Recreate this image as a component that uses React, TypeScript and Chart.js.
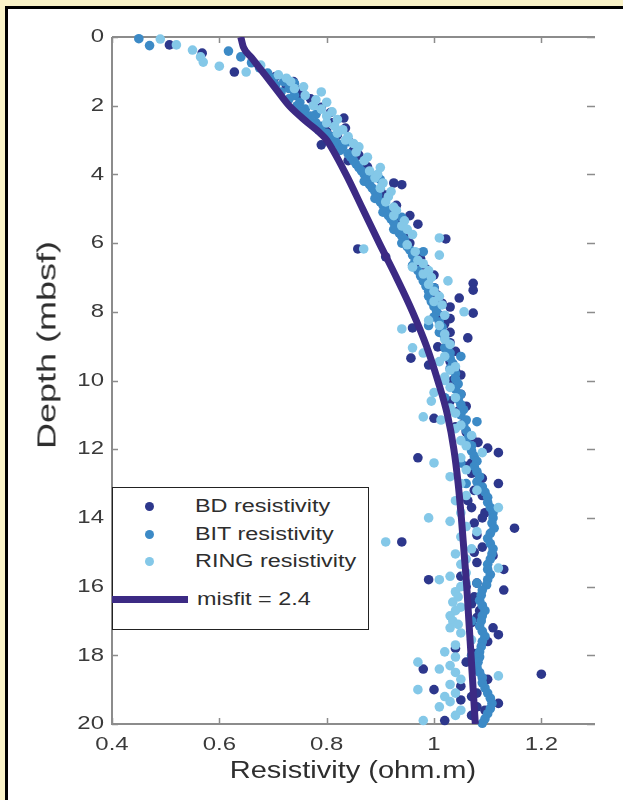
import React, { useEffect, useRef } from "react";
import { Chart, registerables } from "chart.js";

Chart.register(...registerables);

// ---------- data ----------
const xTickValues = [0.4, 0.6, 0.8, 1, 1.2];
const xTickLabels = ["0.4", "0.6", "0.8", "1", "1.2"];
const yTickValues = [0, 2, 4, 6, 8, 10, 12, 14, 16, 18, 20];
const yTickLabels = ["0", "2", "4", "6", "8", "10", "12", "14", "16", "18", "20"];

const bdDepth = [0.23, 0.47, 1.02, 1.15, 1.3, 1.45, 1.55, 1.7, 1.8, 1.93, 2.05, 2.2, 2.36, 2.5, 2.65, 2.75, 2.85, 3.0, 3.14, 3.3, 3.44, 3.6, 3.78, 3.9, 4.05, 4.15, 4.25, 4.3, 4.45, 4.6, 4.75, 4.9, 5.05, 5.2, 5.3, 5.45, 5.55, 5.7, 5.88, 6.0, 6.17, 6.3, 6.4, 6.45, 6.6, 6.75, 6.93, 7.05, 7.17, 7.3, 7.37, 7.5, 7.6, 7.75, 7.86, 8.04, 8.1, 8.2, 8.35, 8.47, 8.6, 8.76, 8.9, 9.02, 9.15, 9.35, 9.45, 9.55, 9.7, 9.84, 10.0, 10.2, 10.4, 10.6, 10.75, 10.9, 11.1, 11.25, 11.35, 11.5, 11.65, 11.8, 11.97, 12.1, 12.25, 12.4, 12.5, 12.7, 12.85, 13.0, 13.2, 13.35, 13.5, 13.7, 13.85, 14.0, 14.15, 14.3, 14.5, 14.7, 14.85, 15.0, 15.1, 15.3, 15.5, 15.7, 15.8, 15.9, 16.0, 16.1, 16.3, 16.5, 16.7, 16.9, 17.05, 17.2, 17.4, 17.6, 17.8, 17.95, 18.1, 18.2, 18.4, 18.55, 18.7, 18.9, 19.0, 19.1, 19.2, 19.3, 19.4, 19.5, 19.6, 19.75, 19.9];
const bdRes = [0.507, 0.568, 0.628, 0.705, 0.738, 0.725, 0.75, 0.745, 0.77, 0.776, 0.79, 0.807, 0.832, 0.81, 0.835, 0.8, 0.82, 0.84, 0.79, 0.85, 0.86, 0.84, 0.876, 0.87, 0.89, 0.88, 0.925, 0.94, 0.9, 0.91, 0.905, 0.93, 0.92, 0.955, 0.935, 0.97, 0.94, 0.95, 1.022, 0.955, 0.858, 0.97, 0.91, 0.975, 0.97, 0.985, 1.0, 0.99, 1.073, 1.0, 1.073, 1.005, 1.047, 1.015, 1.03, 1.073, 1.01, 1.03, 1.02, 0.96, 1.03, 1.063, 1.03, 1.007, 1.04, 0.957, 1.03, 0.99, 1.04, 1.05, 1.035, 1.04, 1.05, 1.03, 1.06, 1.045, 1.0, 1.055, 1.04, 1.06, 1.07, 1.082, 1.1, 1.12, 0.97, 1.07, 1.06, 1.07, 1.09, 1.12, 1.075, 1.09, 1.063, 1.07, 1.095, 1.09, 1.075, 1.15, 1.08, 0.94, 1.09, 1.075, 1.11, 1.08, 1.13, 1.05, 0.99, 1.08, 1.06, 1.13, 1.075, 1.07, 1.085, 1.08, 1.07, 1.11, 1.12, 1.1, 1.04, 1.075, 1.07, 1.06, 0.98, 1.2, 1.1, 1.05, 1.0, 1.08, 1.07, 1.05, 1.12, 1.08, 1.095, 1.07, 1.02];

const bitDepth = [0.05, 0.25, 0.41, 0.58, 0.75, 0.9, 1.05, 1.2, 1.3, 1.35, 1.4, 1.5, 1.6, 1.7, 1.8, 1.9, 2.0, 2.1, 2.2, 2.25, 2.3, 2.4, 2.5, 2.6, 2.7, 2.8, 2.9, 3.0, 3.05, 3.1, 3.2, 3.3, 3.4, 3.5, 3.6, 3.7, 3.8, 3.9, 4.0, 4.1, 4.15, 4.2, 4.3, 4.4, 4.5, 4.6, 4.7, 4.8, 4.9, 5.0, 5.1, 5.2, 5.25, 5.3, 5.4, 5.5, 5.6, 5.7, 5.8, 5.9, 6.0, 6.1, 6.2, 6.25, 6.35, 6.5, 6.65, 6.8, 6.95, 7.1, 7.25, 7.3, 7.4, 7.55, 7.7, 7.85, 8.0, 8.15, 8.3, 8.4, 8.45, 8.6, 8.75, 8.9, 9.05, 9.2, 9.3, 9.35, 9.5, 9.65, 9.8, 9.95, 10.1, 10.25, 10.4, 10.5, 10.55, 10.7, 10.85, 11.0, 11.15, 11.2, 11.3, 11.45, 11.6, 11.75, 11.9, 12.05, 12.2, 12.35, 12.4, 12.5, 12.65, 12.8, 12.95, 13.0, 13.1, 13.25, 13.4, 13.55, 13.7, 13.85, 14.0, 14.15, 14.3, 14.45, 14.6, 14.75, 14.9, 15.05, 15.2, 15.35, 15.5, 15.65, 15.8, 15.9, 15.95, 16.1, 16.25, 16.4, 16.55, 16.7, 16.85, 17.0, 17.0, 17.15, 17.3, 17.45, 17.6, 17.75, 17.9, 18.0, 18.05, 18.2, 18.35, 18.5, 18.65, 18.8, 18.95, 19.1, 19.25, 19.4, 19.55, 19.7, 19.85, 19.98];
const bitRes = [0.45, 0.47, 0.617, 0.64, 0.66, 0.675, 0.69, 0.7, 0.72, 0.74, 0.705, 0.73, 0.715, 0.74, 0.73, 0.75, 0.745, 0.76, 0.755, 0.78, 0.77, 0.765, 0.78, 0.79, 0.785, 0.8, 0.81, 0.815, 0.84, 0.82, 0.83, 0.825, 0.84, 0.845, 0.85, 0.855, 0.86, 0.865, 0.87, 0.875, 0.9, 0.87, 0.88, 0.885, 0.89, 0.895, 0.89, 0.9, 0.905, 0.91, 0.905, 0.915, 0.94, 0.92, 0.925, 0.93, 0.925, 0.935, 0.94, 0.945, 0.94, 0.95, 0.955, 0.98, 0.96, 0.965, 0.96, 0.97, 0.975, 0.98, 0.985, 1.0, 0.99, 0.99, 0.995, 1.0, 1.005, 1.0, 1.01, 0.99, 1.015, 1.01, 1.02, 1.025, 1.02, 1.03, 1.05, 1.03, 1.035, 1.03, 1.04, 1.04, 1.045, 1.04, 1.05, 1.02, 1.045, 1.05, 1.055, 1.05, 1.06, 1.08, 1.055, 1.06, 1.065, 1.06, 1.07, 1.07, 1.075, 1.08, 1.05, 1.075, 1.08, 1.085, 1.08, 1.06, 1.09, 1.095, 1.1, 1.1, 1.105, 1.11, 1.11, 1.108, 1.112, 1.105, 1.1, 1.105, 1.11, 1.108, 1.105, 1.1, 1.1, 1.105, 1.1, 1.08, 1.098, 1.09, 1.088, 1.085, 1.09, 1.095, 1.09, 1.088, 1.07, 1.085, 1.09, 1.095, 1.09, 1.088, 1.085, 1.07, 1.085, 1.082, 1.08, 1.085, 1.09, 1.09, 1.095, 1.1, 1.105, 1.108, 1.105, 1.1, 1.095, 1.09];

const ringDepth = [0.06, 0.23, 0.38, 0.58, 0.73, 0.85, 1.02, 0.82, 1.1, 1.2, 1.3, 1.45, 1.5, 1.6, 1.7, 1.83, 1.9, 2.0, 2.1, 2.18, 2.3, 2.4, 2.5, 2.6, 2.7, 2.8, 2.9, 3.0, 3.1, 3.2, 3.35, 3.5, 3.6, 3.8, 3.9, 4.0, 4.1, 4.25, 4.4, 4.5, 4.65, 4.8, 4.95, 5.05, 5.2, 5.35, 5.5, 5.6, 5.75, 5.85, 6.05, 6.17, 6.25, 6.35, 6.5, 6.6, 6.7, 6.8, 6.9, 7.0, 7.1, 7.2, 7.4, 7.55, 7.7, 7.8, 8.0, 8.1, 8.25, 8.4, 8.5, 8.65, 8.8, 8.95, 9.05, 9.2, 9.3, 9.45, 9.6, 9.7, 9.9, 10.0, 10.2, 10.35, 10.5, 10.6, 10.8, 10.95, 11.06, 11.15, 11.3, 11.4, 11.6, 11.75, 11.9, 12.1, 12.25, 12.4, 12.6, 12.8, 13.0, 13.2, 13.35, 13.5, 13.7, 13.85, 14.0, 14.1, 14.25, 14.4, 14.55, 14.7, 14.9, 15.05, 15.2, 15.35, 15.46, 15.6, 15.7, 15.8, 15.9, 16.0, 16.15, 16.3, 16.45, 16.6, 16.7, 16.85, 17.0, 17.1, 17.2, 17.35, 17.55, 17.7, 17.9, 18.05, 18.2, 18.3, 18.4, 18.5, 18.6, 18.7, 18.85, 19.0, 19.1, 19.2, 19.35, 19.5, 19.6, 19.75, 19.9];
const ringRes = [0.49, 0.52, 0.55, 0.565, 0.57, 0.6, 0.65, 0.677, 0.71, 0.725, 0.733, 0.757, 0.74, 0.79, 0.76, 0.78, 0.8, 0.775, 0.79, 0.81, 0.8, 0.82, 0.8, 0.815, 0.83, 0.82, 0.84, 0.835, 0.85, 0.86, 0.855, 0.876, 0.87, 0.9, 0.88, 0.895, 0.89, 0.905, 0.9, 0.92, 0.915, 0.91, 0.925, 0.93, 0.925, 0.945, 0.94, 0.95, 0.96, 1.01, 0.95, 0.869, 0.965, 1.01, 0.97, 0.98, 0.96, 0.99, 0.98, 0.995, 1.026, 0.99, 1.0, 1.01, 1.0, 1.015, 1.056, 1.02, 0.99, 1.01, 0.94, 1.02, 1.02, 1.03, 0.96, 0.98, 1.02, 1.01, 1.04, 1.03, 1.02, 1.02, 1.03, 1.0, 1.04, 0.995, 1.03, 1.04, 0.98, 1.013, 1.05, 1.04, 1.07, 1.05, 1.06, 1.09, 1.05, 1.0, 1.06, 1.03, 1.05, 1.08, 1.06, 1.04, 1.12, 1.05, 0.99, 1.03, 1.06, 1.08, 1.05, 0.91, 1.07, 1.04, 1.06, 1.05, 1.12, 1.06, 1.03, 1.01, 1.06, 1.05, 1.04, 1.045, 1.035, 1.05, 1.04, 1.03, 1.035, 1.045, 1.03, 1.05, 1.07, 1.04, 1.02, 1.04, 0.97, 1.03, 1.01, 1.04, 1.12, 1.05, 1.03, 0.97, 1.04, 1.02, 1.03, 1.01, 1.05, 1.04, 0.98];

const fitDepth = [0, 0.3, 0.6, 1, 1.5, 2, 2.5, 2.8, 3, 4, 5, 6, 7, 8, 9, 10, 11, 12, 13, 14, 15, 16, 17, 18, 19, 20];
const fitRes = [0.64, 0.645, 0.66, 0.68, 0.705, 0.73, 0.765, 0.788, 0.8, 0.836, 0.867, 0.898, 0.93, 0.96, 0.986, 1.007, 1.025, 1.037, 1.045, 1.051, 1.056, 1.061, 1.065, 1.069, 1.073, 1.077];

const seriesNames = ["BD resistivity", "BIT resistivity", "RING resistivity", "misfit = 2.4"];
const colors = { bd: "#2d378c", bit: "#3c8ac6", ring: "#84c8e8", fit: "#3c2a84" };

const FONT = '"Liberation Sans", Arial, Helvetica, sans-serif';
const STRETCH = 1.26;

const toPoints = (d: number[], r: number[]) => d.map((dv, i) => ({ x: r[i], y: dv }));

const framePlugin = {
  id: "frame",
  beforeDatasetsDraw(chart: any) {
    const { ctx, chartArea } = chart;
    const { left, right, top, bottom } = chartArea;
    const xs = chart.scales.x;
    const ys = chart.scales.y;
    ctx.save();
    ctx.strokeStyle = "#8c8c8c";
    ctx.lineWidth = 2;
    ctx.beginPath();
    ctx.moveTo(left, top);
    ctx.lineTo(left, bottom);
    ctx.lineTo(right, bottom);
    ctx.moveTo(left, top);
    ctx.lineTo(right, top);
    ctx.stroke();
    ctx.lineWidth = 1.5;
    ctx.beginPath();
    xTickValues.forEach((v) => {
      const px = Math.round(xs.getPixelForValue(v)) + 0.5;
      ctx.moveTo(px, bottom);
      ctx.lineTo(px, bottom - 6);
      ctx.moveTo(px, top);
      ctx.lineTo(px, top + 6);
    });
    yTickValues.forEach((v) => {
      const py = Math.round(ys.getPixelForValue(v)) + 0.5;
      ctx.moveTo(left, py);
      ctx.lineTo(left + 6, py);
      ctx.moveTo(right, py);
      ctx.lineTo(right - 8, py);
    });
    ctx.stroke();
    ctx.restore();
  },
  afterDraw(chart: any) {
    const { ctx, chartArea } = chart;
    const xs = chart.scales.x;
    const ys = chart.scales.y;
    ctx.save();
    ctx.fillStyle = "#3a3a3a";
    ctx.font = `19px ${FONT}`;
    yTickValues.forEach((v, i) => {
      const py = ys.getPixelForValue(v);
      ctx.save();
      ctx.translate(chartArea.left - 8, py);
      ctx.scale(STRETCH, 1);
      ctx.textAlign = "right";
      ctx.textBaseline = "middle";
      ctx.fillText(yTickLabels[i], 0, 0);
      ctx.restore();
    });
    xTickValues.forEach((v, i) => {
      const px = xs.getPixelForValue(v);
      ctx.save();
      ctx.translate(px, chartArea.bottom + 11);
      ctx.scale(STRETCH, 1);
      ctx.textAlign = "center";
      ctx.textBaseline = "top";
      ctx.fillText(xTickLabels[i], 0, 0);
      ctx.restore();
    });
    ctx.restore();
  },
};

export default function App() {
  const canvasRef = useRef<HTMLCanvasElement | null>(null);

  useEffect(() => {
    if (!canvasRef.current) return;
    const pointStyle = { borderWidth: 0, pointRadius: 4.8, clip: false };
    const chart = new Chart(canvasRef.current, {
      type: "scatter",
      data: {
        datasets: [
          {
            type: "line",
            label: seriesNames[3],
            data: toPoints(fitDepth, fitRes),
            borderColor: colors.fit,
            backgroundColor: colors.fit,
            borderWidth: 7,
            pointRadius: 0,
            cubicInterpolationMode: "monotone",
            fill: false,
            order: 0,
          } as any,
          { label: seriesNames[2], data: toPoints(ringDepth, ringRes), backgroundColor: colors.ring, ...pointStyle, order: 1 },
          { label: seriesNames[1], data: toPoints(bitDepth, bitRes), backgroundColor: colors.bit, ...pointStyle, order: 2 },
          { label: seriesNames[0], data: toPoints(bdDepth, bdRes), backgroundColor: colors.bd, ...pointStyle, order: 3 },
        ],
      },
      options: {
        animation: false,
        responsive: false,
        maintainAspectRatio: false,
        devicePixelRatio: 1,
        layout: { padding: { top: 37, right: 28, left: 0, bottom: 0 } },
        plugins: { legend: { display: false }, tooltip: { enabled: false } },
        scales: {
          x: {
            type: "linear",
            min: 0.4,
            max: 1.3,
            grid: { display: false },
            border: { display: false },
            ticks: { display: false },
            afterFit: (s: any) => {
              s.height = 76;
            },
          },
          y: {
            type: "linear",
            reverse: true,
            min: 0,
            max: 20,
            grid: { display: false },
            border: { display: false },
            ticks: { display: false },
            afterFit: (s: any) => {
              s.width = 112;
            },
          },
        },
      },
      plugins: [framePlugin],
    });
    return () => chart.destroy();
  }, []);

  const textBase: React.CSSProperties = {
    fontFamily: FONT,
    color: "#2e2e2e",
    whiteSpace: "nowrap",
  };

  const legendRow = (top: number, color: string, label: string) => (
    <div style={{ position: "absolute", left: 0, top: top - 12, height: 24, width: 255 }}>
      <div
        style={{
          position: "absolute",
          left: 32,
          top: 7.5,
          width: 9,
          height: 9,
          borderRadius: "50%",
          background: color,
        }}
      />
      <div
        style={{
          ...textBase,
          position: "absolute",
          left: 82,
          top: 0,
          fontSize: 18,
          lineHeight: "24px",
          transform: `scaleX(1.3)`,
          transformOrigin: "left center",
        }}
      >
        {label}
      </div>
    </div>
  );

  return (
    <div
      style={{
        position: "absolute",
        left: 0,
        top: 0,
        width: 623,
        height: 800,
        overflow: "hidden",
        background: "#faf3c8",
      }}
    >
      <div
        style={{
          position: "absolute",
          left: 5,
          top: 6,
          width: 700,
          height: 900,
          background: "#ffffff",
          borderLeft: "3px solid #000",
          borderTop: "3px solid #000",
        }}
      />
      <canvas
        ref={canvasRef}
        width={623}
        height={800}
        style={{ position: "absolute", left: 0, top: 0, width: 623, height: 800 }}
      />
      {/* y axis title */}
      <div
        style={{
          ...textBase,
          position: "absolute",
          left: 47 - 150,
          top: 345 - 20,
          width: 300,
          height: 40,
          lineHeight: "40px",
          textAlign: "center",
          fontSize: 36,
          transform: `scale(0.74, 1) rotate(-90deg)`,
          transformOrigin: "center center",
        }}
      >
        Depth (mbsf)
      </div>
      {/* x axis title */}
      <div
        style={{
          ...textBase,
          position: "absolute",
          left: 353 - 200,
          top: 770 - 15,
          width: 400,
          height: 30,
          lineHeight: "30px",
          textAlign: "center",
          fontSize: 23,
          transform: `scaleX(${STRETCH})`,
          transformOrigin: "center center",
        }}
      >
        Resistivity (ohm.m)
      </div>
      {/* legend */}
      <div
        style={{
          position: "absolute",
          left: 112,
          top: 487,
          width: 257,
          height: 143,
          boxSizing: "border-box",
          border: "1.5px solid #222",
          background: "#ffffff",
        }}
      >
        {legendRow(18, colors.bd, seriesNames[0])}
        {legendRow(46, colors.bit, seriesNames[1])}
        {legendRow(73, colors.ring, seriesNames[2])}
        <div style={{ position: "absolute", left: 0, top: 111 - 12, height: 24, width: 255 }}>
          <div
            style={{
              position: "absolute",
              left: -1,
              top: 8.5,
              width: 76,
              height: 7,
              background: colors.fit,
            }}
          />
          <div
            style={{
              ...textBase,
              position: "absolute",
              left: 84,
              top: 0,
              fontSize: 18,
              lineHeight: "24px",
              transform: `scaleX(1.3)`,
              transformOrigin: "left center",
            }}
          >
            {seriesNames[3]}
          </div>
        </div>
      </div>
    </div>
  );
}
